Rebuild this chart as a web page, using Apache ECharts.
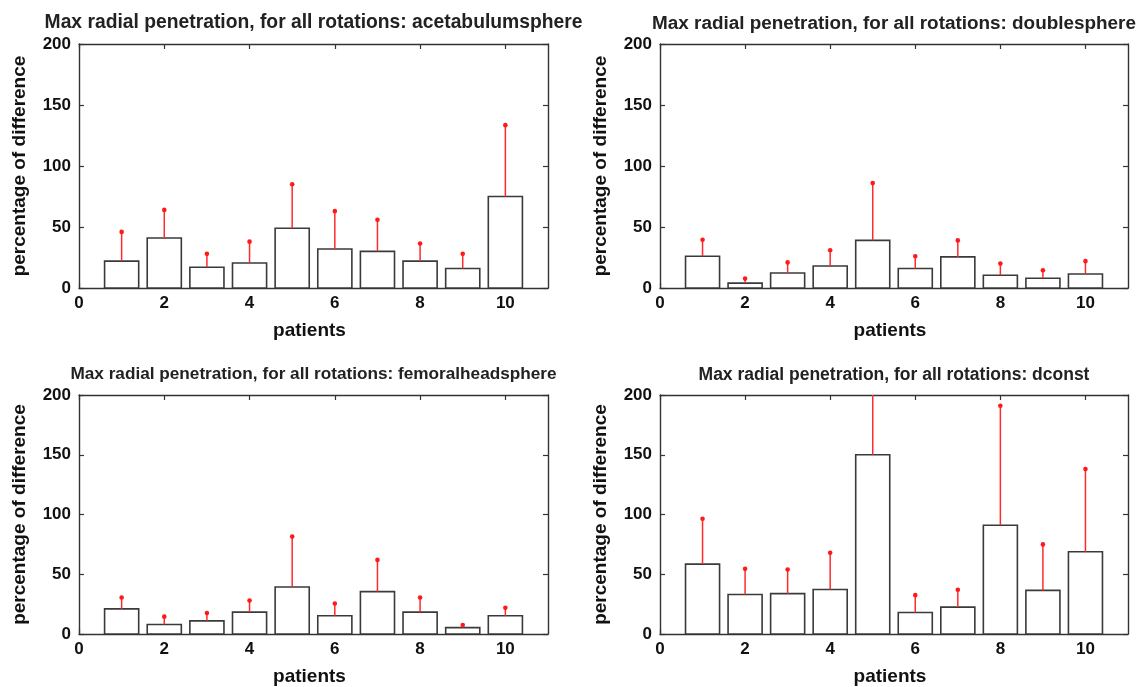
<!DOCTYPE html>
<html>
<head>
<meta charset="utf-8">
<script src="https://cdn.jsdelivr.net/npm/echarts@6/dist/echarts.min.js"></script>
<style>
  html, body { margin: 0; padding: 0; background: #fff; }
  #chart { width: 1148px; height: 687px; }
</style>
</head>
<body>
<div id="chart"></div>
<script>
// data
const patients = [1, 2, 3, 4, 5, 6, 7, 8, 9, 10];
const xTickValues = [0, 2, 4, 6, 8, 10];
const yTickValues = [0, 50, 100, 150, 200];

const acetabulumMean = [22, 41, 17, 20.5, 49, 32, 30, 22, 16, 75];
const acetabulumTop = [46, 64, 28, 38, 85, 63, 56, 36.5, 28, 133.5];
const doubleMean = [26, 4, 12.3, 18, 39, 16, 25.5, 10.5, 8, 11.5];
const doubleTop = [39.5, 7.7, 21, 31, 86, 26, 39, 20, 14.5, 22];
const femoralMean = [21, 8, 11, 18.3, 39.3, 15.3, 35.5, 18.3, 5.3, 15.3];
const femoralTop = [30.5, 14.5, 17.5, 28, 81.5, 25.5, 62, 30.5, 7.5, 22];
const dconstMean = [58.5, 33, 33.8, 37.3, 150, 18, 22.5, 91, 36.5, 68.8];
const dconstTop = [96.5, 54.5, 54, 68, 230, 32.5, 37, 191, 75, 138];

const panels = [
    { name: 'acetabulumsphere', mean: acetabulumMean, top: acetabulumTop,
      grid: { left: 79, top: 44, width: 469, height: 244 }, titleTop: 13, titleSize: 19.3 },
    { name: 'doublesphere', mean: doubleMean, top: doubleTop,
      grid: { left: 660, top: 44, width: 468, height: 244 }, titleTop: 14, titleSize: 18.9 },
    { name: 'femoralheadsphere', mean: femoralMean, top: femoralTop,
      grid: { left: 79, top: 395, width: 469, height: 246 }, titleTop: 366, titleSize: 17.2 },
    { name: 'dconst', mean: dconstMean, top: dconstTop,
      grid: { left: 660, top: 395, width: 468, height: 246 }, titleTop: 366, titleSize: 17.5 },
];

const FONT = '"Liberation Sans", Arial, sans-serif';
const AXIS_COLOR = '#333';

function barItem(params, api) {
    const x = api.value(0), y = api.value(1);
    const p0 = api.coord([x - 0.4, y]);
    const p1 = api.coord([x + 0.4, 0]);
    return {
        type: 'rect',
        shape: { x: p0[0], y: p0[1], width: p1[0] - p0[0], height: p1[1] - p0[1] },
        style: { fill: '#fff', stroke: '#3a3a3a', lineWidth: 1.6 },
    };
}

function errItem(params, api) {
    const x = api.value(0);
    const a = api.coord([x, api.value(1)]);
    const b = api.coord([x, api.value(2)]);
    return {
        type: 'group',
        children: [
            { type: 'line', shape: { x1: a[0], y1: a[1], x2: b[0], y2: b[1] },
              style: { stroke: '#ff2a2a', lineWidth: 1.5 } },
            { type: 'circle', shape: { cx: b[0], cy: b[1], r: 2.3 },
              style: { fill: '#ff1a1a' } },
        ],
    };
}

const option = { animation: false, title: [], grid: [], xAxis: [], yAxis: [], series: [] };

panels.forEach((p, i) => {
    const g = p.grid;
    option.grid.push({ left: g.left, top: g.top, width: g.width, height: g.height });
    option.title.push({
        text: 'Max radial penetration, for all rotations: ' + p.name,
        left: g.left + g.width / 2, top: p.titleTop, textAlign: 'center', padding: 0,
        textStyle: { fontFamily: FONT, fontSize: p.titleSize, fontWeight: 'bold', color: '#222' },
    });
    const tickStyle = { show: true, inside: true, length: 5, lineStyle: { color: AXIS_COLOR, width: 1.2 } };
    const lineStyle = { show: true, onZero: false, lineStyle: { color: AXIS_COLOR, width: 1.4 } };
    // bottom x axis
    option.xAxis.push({
        type: 'value', gridIndex: i, min: 0, max: 11, position: 'bottom',
        name: 'patients', nameLocation: 'middle', nameGap: 33,
        nameTextStyle: { fontFamily: FONT, fontSize: 19, fontWeight: 'bold', color: '#111', padding: [0, 8, 0, 0] },
        axisLine: lineStyle,
        axisTick: Object.assign({ customValues: xTickValues }, tickStyle),
        axisLabel: { customValues: xTickValues, margin: 7, fontFamily: FONT, fontSize: 17, fontWeight: 'bold', color: '#111' },
        splitLine: { show: false },
    });
    // top x axis (frame + ticks)
    option.xAxis.push({
        type: 'value', gridIndex: i, min: 0, max: 11, position: 'top',
        axisLine: lineStyle,
        axisTick: Object.assign({ customValues: xTickValues }, tickStyle),
        axisLabel: { show: false }, splitLine: { show: false },
    });
    // left y axis
    option.yAxis.push({
        type: 'value', gridIndex: i, min: 0, max: 200, position: 'left',
        name: 'percentage of difference', nameLocation: 'middle', nameGap: 50,
        nameTextStyle: { fontFamily: FONT, fontSize: 19, fontWeight: 'bold', color: '#111' },
        axisLine: lineStyle,
        axisTick: Object.assign({ customValues: yTickValues }, tickStyle),
        axisLabel: { customValues: yTickValues, margin: 8, fontFamily: FONT, fontSize: 17, fontWeight: 'bold', color: '#111' },
        splitLine: { show: false },
    });
    // right y axis (frame + ticks)
    option.yAxis.push({
        type: 'value', gridIndex: i, min: 0, max: 200, position: 'right',
        axisLine: lineStyle,
        axisTick: Object.assign({ customValues: yTickValues }, tickStyle),
        axisLabel: { show: false }, splitLine: { show: false },
    });
    option.series.push({
        type: 'custom', xAxisIndex: i * 2, yAxisIndex: i * 2, clip: true,
        renderItem: barItem, encode: { x: 0, y: 1 },
        data: patients.map((x, k) => [x, p.mean[k]]),
        z: 2,
    });
    option.series.push({
        type: 'custom', xAxisIndex: i * 2, yAxisIndex: i * 2, clip: true,
        renderItem: errItem, encode: { x: 0, y: [1, 2] },
        data: patients.map((x, k) => [x, p.mean[k], p.top[k]]),
        z: 3,
    });
});

const chart = echarts.init(document.getElementById('chart'));
chart.setOption(option);
</script>
</body>
</html>
